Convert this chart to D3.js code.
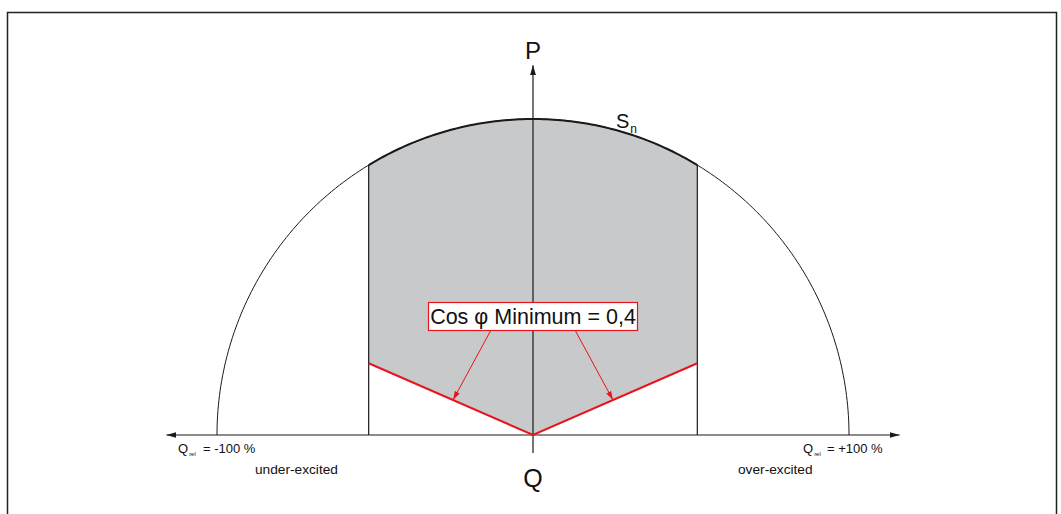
<!DOCTYPE html>
<html><head><meta charset="utf-8">
<script src="https://cdn.jsdelivr.net/npm/d3@7"></script>
<style>body{margin:0;background:#fff}svg{display:block;font-family:"Liberation Sans",Arial,sans-serif}</style>
</head><body><svg id="c" width="1061" height="514"></svg>
<script>
// data
const sRated = 1.0;            // S_n (relative apparent power)
const qLimit = 0.52;           // reactive power limit of shaded region (relative)
const cosPhiMin = 0.4;         // minimum power factor
const axisLabels = ["= -100 %", "= +100 %"];
const regionLabels = ["under-excited", "over-excited"];
const calloutText = "Cos φ Minimum = 0,4";

const svg = d3.select("#c");
const cx = 533, cy = 435, R = 316;
const x = d3.scaleLinear().domain([-1, 1]).range([cx - R, cx + R]);
const y = d3.scaleLinear().domain([0, 1]).range([cy, cy - R]);

// frame
svg.append("path").attr("d","M7.5,514 V12.5 H1056.5 V514").attr("fill","none").attr("stroke","#222").attr("stroke-width",1.5);

const slope = cosPhiMin / Math.sqrt(1 - cosPhiMin*cosPhiMin); // P/Q on cos phi line
const pLine = qLimit * slope;
const angTop = Math.acos(qLimit / sRated);
const arcPts = d3.range(0, 101).map(i => {
  const a = angTop + (Math.PI - 2*angTop) * i/100;
  return [sRated*Math.cos(a), sRated*Math.sin(a)];
});
const line = d3.line().x(d=>x(d[0])).y(d=>y(d[1]));

// shaded area
const poly = [[0,0],[qLimit,pLine]].concat(arcPts).concat([[-qLimit,pLine],[0,0]]);
svg.append("path").attr("d", line(poly)+"Z").attr("fill","#c8c9cb");

// full thin semicircle
const semi = d3.range(0,201).map(i=>{const a=Math.PI*i/200;return [sRated*Math.cos(a), sRated*Math.sin(a)];});
svg.append("path").attr("d", line(semi)).attr("fill","none").attr("stroke","#1a1a1a").attr("stroke-width",1);
// thick arc on top of region
svg.append("path").attr("d", line(arcPts)).attr("fill","none").attr("stroke","#1a1a1a").attr("stroke-width",2);

// verticals
[-qLimit, qLimit].forEach(q=>{
  svg.append("line").attr("x1",x(q)).attr("x2",x(q)).attr("y1",y(0)).attr("y2",y(Math.sqrt(1-q*q)))
    .attr("stroke","#1a1a1a").attr("stroke-width",1.2);
});

// arrow markers
const defs = svg.append("defs");
defs.append("marker").attr("id","ab").attr("viewBox","0 0 10 6").attr("refX",10).attr("refY",3)
  .attr("markerWidth",10).attr("markerHeight",6).attr("markerUnits","userSpaceOnUse").attr("orient","auto")
  .append("path").attr("d","M0,0 L10,3 L0,6 Z").attr("fill","#1a1a1a");
defs.append("marker").attr("id","ar").attr("viewBox","0 0 10 6").attr("refX",10).attr("refY",3)
  .attr("markerWidth",9).attr("markerHeight",6).attr("markerUnits","userSpaceOnUse").attr("orient","auto")
  .append("path").attr("d","M0,0 L10,3 L0,6 Z").attr("fill","#e8141c");

// axes
svg.append("line").attr("x1",x(0)).attr("x2",x(-1.16)).attr("y1",cy).attr("y2",cy).attr("stroke","#1a1a1a").attr("stroke-width",1.2).attr("marker-end","url(#ab)");
svg.append("line").attr("x1",x(0)).attr("x2",x(1.16)).attr("y1",cy).attr("y2",cy).attr("stroke","#1a1a1a").attr("stroke-width",1.2).attr("marker-end","url(#ab)");
svg.append("line").attr("x1",cx).attr("x2",cx).attr("y1",453).attr("y2",y(1.17)).attr("stroke","#1a1a1a").attr("stroke-width",1.2).attr("marker-end","url(#ab)");

// red cos phi lines
svg.append("path").attr("d", line([[-qLimit,pLine],[0,0],[qLimit,pLine]])).attr("fill","none").attr("stroke","#e8141c").attr("stroke-width",2);

// callout arrows
const ptL = [-(cx-453)/R, (cx-453)/R*slope], ptR = [(613-cx)/R, (613-cx)/R*slope];
svg.append("line").attr("x1",491).attr("y1",330).attr("x2",x(ptL[0])).attr("y2",y(ptL[1])).attr("stroke","#e8141c").attr("stroke-width",1).attr("marker-end","url(#ar)");
svg.append("line").attr("x1",575).attr("y1",330).attr("x2",x(ptR[0])).attr("y2",y(ptR[1])).attr("stroke","#e8141c").attr("stroke-width",1).attr("marker-end","url(#ar)");

// callout box
svg.append("rect").attr("x",428.5).attr("y",302.5).attr("width",209).attr("height",28).attr("fill","#fff").attr("stroke","#e8141c").attr("stroke-width",1.2);
svg.append("text").attr("x",533).attr("y",324).attr("text-anchor","middle").attr("font-size",21.5).attr("fill","#111").text(calloutText);

// P, Q labels
svg.append("text").attr("x",cx).attr("y",59).attr("text-anchor","middle").attr("font-size",24).attr("fill","#111").text("P");
svg.append("text").attr("x",cx).attr("y",487).attr("text-anchor","middle").attr("font-size",25).attr("fill","#111").text("Q");

// S_n
const sn = svg.append("text").attr("x",616).attr("y",128).attr("font-size",20).attr("fill","#111");
sn.append("tspan").text("S");
sn.append("tspan").attr("dx",1).attr("dy",5).attr("font-size",12).text("n");

// Q_rel labels
function qrel(xq, xe, str){
  const t = svg.append("text").attr("x",xq).attr("y",453).attr("font-size",13).attr("fill","#111");
  t.append("tspan").text("Q");
  t.append("tspan").attr("dx",1).attr("dy",3).attr("font-size",6).text("rel");
  t.append("tspan").attr("x",xe).attr("dy",-3).text(str);
}
qrel(178, 203, axisLabels[0]);
qrel(803, 827, axisLabels[1]);

svg.append("text").attr("x",255).attr("y",474).attr("font-size",13.7).attr("fill","#111").text(regionLabels[0]);
svg.append("text").attr("x",738).attr("y",474).attr("font-size",13.7).attr("fill","#111").text(regionLabels[1]);
</script></body></html>
